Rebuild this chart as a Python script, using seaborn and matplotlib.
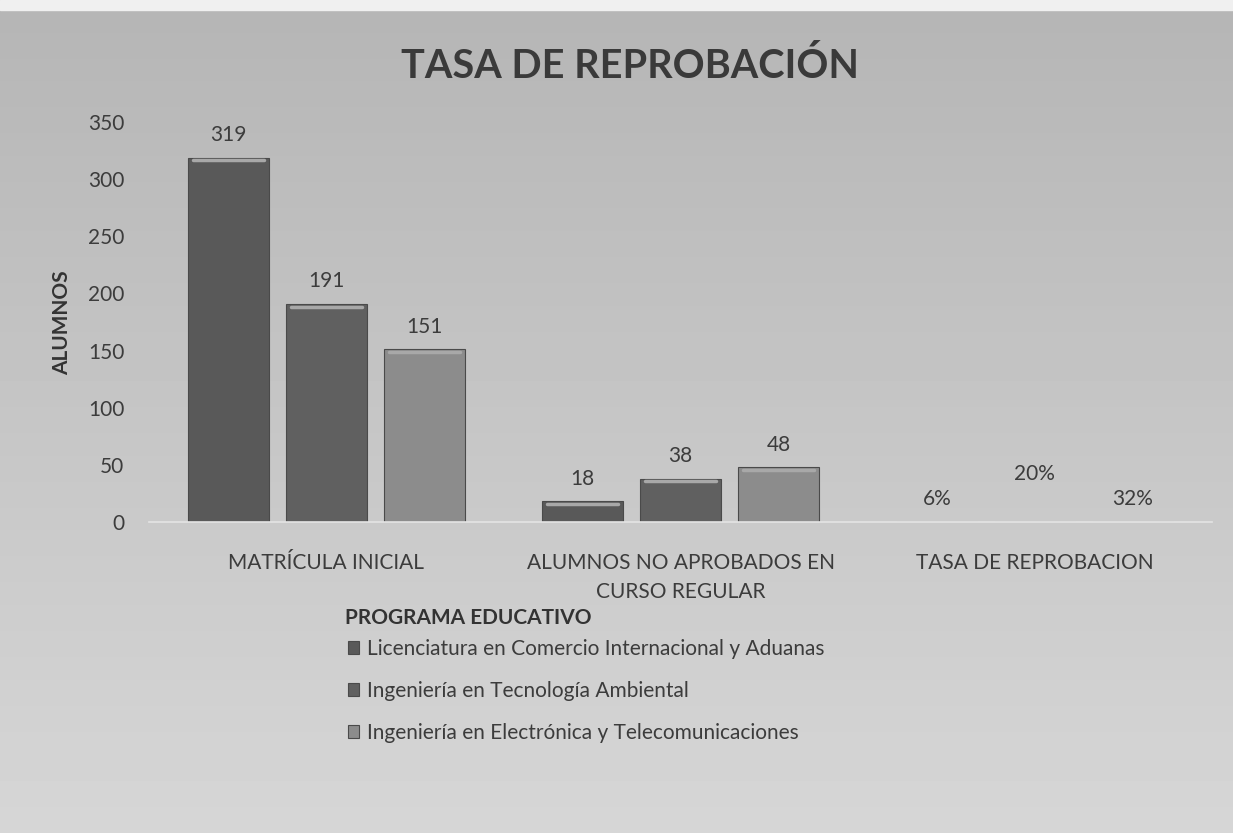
import numpy as np
import pandas as pd
import matplotlib
matplotlib.use("Agg")
import matplotlib.pyplot as plt
import seaborn as sns

# data
categories = ["MATRÍCULA INICIAL", "ALUMNOS NO APROBADOS EN\nCURSO REGULAR", "TASA DE REPROBACION"]
programs = ["Licenciatura en Comercio Internacional y Aduanas",
            "Ingeniería en Tecnología Ambiental",
            "Ingeniería en Electrónica y Telecomunicaciones"]
lic_values = [319, 18, 0.06]
amb_values = [191, 38, 0.20]
elec_values = [151, 48, 0.32]
value_labels = [["319", "18", "6%"], ["191", "38", "20%"], ["151", "48", "32%"]]
y_ticks = [0, 50, 100, 150, 200, 250, 300, 350]

rows = []
for prog, vals in zip(programs, [lic_values, amb_values, elec_values]):
    for cat, v in zip(categories, vals):
        rows.append({"categoria": cat, "programa": prog, "valor": v})
df = pd.DataFrame(rows)

bar_colors = ["#595959", "#606060", "#8c8c8c"]
text_color = "#3c3c3c"

sns.set_theme(style="white")
plt.rcParams["font.family"] = ["Lato", "DejaVu Sans"]

fig = plt.figure(figsize=(12.33, 8.33), dpi=100)

# scanned gray background with a soft vertical gradient
bg = fig.add_axes([0, 0, 1, 1], zorder=0)
grad = np.linspace(0.71, 0.84, 256).reshape(-1, 1)
bg.imshow(grad, aspect="auto", cmap="gray", vmin=0, vmax=1, extent=[0, 1, 0, 1])
bg.axhspan(0.988, 1.0, color="#f0f0f0")
bg.set_xlim(0, 1)
bg.set_ylim(0, 1)
bg.axis("off")

ax = fig.add_axes([0.121, 0.3734, 0.862, 0.480], zorder=1)
ax.patch.set_alpha(0)
sns.barplot(data=df, x="categoria", y="valor", hue="programa", palette=bar_colors,
            width=0.83, gap=0.18, ax=ax, legend=True, edgecolor="#4a4a4a", linewidth=0.8)
xlim = ax.get_xlim()

ax.set_ylim(0, 350)
ax.set_yticks(y_ticks)
ax.set_yticklabels([str(t) for t in y_ticks], fontsize=15, color=text_color)
ax.tick_params(axis="x", labelsize=15, colors=text_color, pad=22, length=0)
ax.tick_params(axis="y", length=0, pad=18)
for lbl in ax.get_xticklabels():
    lbl.set_linespacing(1.6)
ax.set_xlabel("")
ax.set_ylabel("")
fig.text(62 / 1233, 1 - 323 / 833, "ALUMNOS", rotation=90, ha="center", va="center",
         fontsize=15, fontweight="bold", color="#333333")
for s in ["top", "right", "left"]:
    ax.spines[s].set_visible(False)
ax.spines["bottom"].set_color("#e4e4e4")
ax.spines["bottom"].set_linewidth(1.2)

# light bevel along the top of each visible bar, plus value labels
extra = [[0, 0, 0], [0, 0, 18], [0, 0, 0]]
for i, cont in enumerate(ax.containers):
    for j, bar in enumerate(cont):
        x = bar.get_x() + bar.get_width() / 2
        h = bar.get_height()
        if h > 5:
            w = bar.get_width()
            ax.plot([bar.get_x() + w * 0.06, bar.get_x() + w * 0.94], [h - 2.5, h - 2.5],
                    color="#a8a8a8", lw=2.5, solid_capstyle="round", zorder=3)
        ax.annotate(value_labels[i][j], (x, h), xytext=(0, 9 + extra[i][j]),
                    textcoords="offset points", ha="center", va="bottom",
                    fontsize=15, color=text_color)
ax.set_xlim(xlim)

fig.text(0.511, 1 - 66 / 833, "TASA DE REPROBACIÓN", ha="center", va="center",
         fontsize=28.5, fontweight="bold", color="#3a3a3a")

handles, labels = ax.get_legend_handles_labels()
ax.get_legend().remove()
fig.text(345 / 1233, 1 - 618 / 833, "PROGRAMA EDUCATIVO", ha="left", va="center",
         fontsize=15, fontweight="bold", color="#333333")
leg = fig.legend(handles, labels, loc="upper left", bbox_to_anchor=(348 / 1233, 1 - 639 / 833),
                 frameon=False, fontsize=15, borderpad=0, borderaxespad=0,
                 handlelength=0.55, handleheight=0.55, handletextpad=0.35, labelspacing=1.05)
for t in leg.get_texts():
    t.set_color(text_color)

fig.savefig("out.png", dpi=100)
